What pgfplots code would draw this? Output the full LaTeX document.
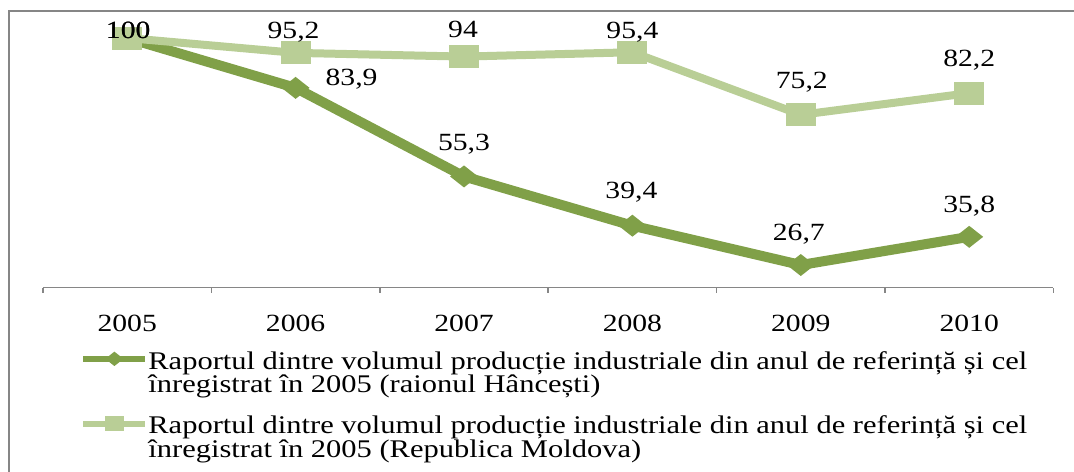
\documentclass[border=0pt]{standalone}
\usepackage{fontspec}
\setmainfont{Liberation Serif}[FakeStretch=1.2]
\usepackage{pgfplots}
\pgfplotsset{compat=1.18}
\definecolor{dg}{RGB}{128,160,72}
\definecolor{lg}{RGB}{185,206,150}
\definecolor{fg}{RGB}{134,134,134}
\newcommand\lf{\fontsize{12.4}{11.75}\selectfont}
\newcommand\legf{\fontsize{12.75}{11.75}\selectfont}

\pgfdeclareplotmark{dmd}{%
  \pgfpathmoveto{\pgfqpoint{0pt}{\pgfplotmarksize}}%
  \pgfpathlineto{\pgfqpoint{1.27\pgfplotmarksize}{0pt}}%
  \pgfpathlineto{\pgfqpoint{0pt}{-\pgfplotmarksize}}%
  \pgfpathlineto{\pgfqpoint{-1.27\pgfplotmarksize}{0pt}}%
  \pgfpathclose\pgfusepathqfill}
\pgfdeclareplotmark{sqr}{%
  \pgfpathrectanglecorners{\pgfqpoint{-1.3\pgfplotmarksize}{-\pgfplotmarksize}}{\pgfqpoint{1.3\pgfplotmarksize}{\pgfplotmarksize}}%
  \pgfusepathqfill}

\pgfplotsset{lab/.style 2 args={forget plot, draw=none, mark=none, nodes near coords, point meta=y,
  every node near coord/.append style={anchor=base, xshift=#1bp, yshift=#2bp, font=\lf, text=black, inner sep=0pt}}}

\begin{document}
\begin{tikzpicture}
\begin{axis}[
  width=505.2bp, height=124.75bp, scale only axis,
  xmin=-0.5, xmax=5.5, ymin=19.44, ymax=100,
  clip=false,
  axis x line*=bottom, axis y line=none,
  axis line style={draw=fg, line width=0.9bp},
  xtick={0,...,5}, xticklabels={2005,2006,2007,2008,2009,2010},
  major tick length=0pt, xtick align=outside,
  extra x ticks={-0.5,0.5,1.5,2.5,3.5,4.5,5.5}, extra x tick labels={},
  extra x tick style={major tick length=2.5bp, tick style={draw=fg, line width=0.75bp}},
  xticklabel style={anchor=base, yshift=-22bp, font=\lf, inner sep=0pt},
  /pgf/number format/.cd, use comma, fixed, precision=1, assume math mode=true, /pgfplots/.cd,
  legend cell align=left,
  legend style={at={(axis description cs:0,0)}, anchor=north west, xshift=18.5bp, yshift=-31.75bp,
    draw=none, fill=none, inner sep=0pt, column sep=0bp, row sep=10.2bp,
    nodes={inner sep=0pt, align=left, font=\legf}},
  legend image code/.code={\draw[#1, line width=3bp, mark size=3.6bp, mark repeat=2, mark phase=2]
     plot coordinates {(0bp,7.35bp)(15.5bp,7.35bp)(31bp,7.35bp)};},
]
\addplot[dg, line width=5bp, mark=dmd, mark size=5.5bp, mark options={fill=dg}]
  coordinates {(0,100) (1,83.9) (2,55.3) (3,39.4) (4,26.7) (5,35.8)};
\addlegendentry{Raportul dintre volumul producție industriale din anul de referință și cel\\înregistrat în 2005 (raionul Hâncești)}
\addplot[lg, line width=4bp, mark=sqr, mark size=5.75bp, mark options={fill=lg}]
  coordinates {(0,100) (1,95.2) (2,94) (3,95.4) (4,75.2) (5,82.2)};
\addlegendentry{Raportul dintre volumul producție industriale din anul de referință și cel\\înregistrat în 2005 (Republica Moldova)}
% data labels, dark series
\addplot[lab={0.5}{0}] coordinates {(0,100)};
\addplot[lab={28}{1.3}] coordinates {(1,83.9)};
\addplot[lab={0}{13.1}] coordinates {(2,55.3)};
\addplot[lab={-0.5}{13.8}] coordinates {(3,39.4)};
\addplot[lab={-1}{12.3}] coordinates {(4,26.7)};
\addplot[lab={0}{12.1}] coordinates {(5,35.8)};
% data labels, light series
\addplot[lab={0.5}{0}] coordinates {(0,100)};
\addplot[lab={-1}{7.1}] coordinates {(1,95.2)};
\addplot[lab={-0.5}{9.3}] coordinates {(2,94)};
\addplot[lab={0}{7.0}] coordinates {(3,95.4)};
\addplot[lab={0.5}{13.1}] coordinates {(4,75.2)};
\addplot[lab={0}{13.1}] coordinates {(5,82.2)};
\end{axis}
\draw[fg, line width=1bp] (-17bp,-100bp) -- (-17bp,138.25bp) -- (530bp,138.25bp);
\pgfresetboundingbox
\useasboundingbox (-21.5bp,-92.25bp) rectangle (515.5bp,143.75bp);
\end{tikzpicture}
\end{document}
